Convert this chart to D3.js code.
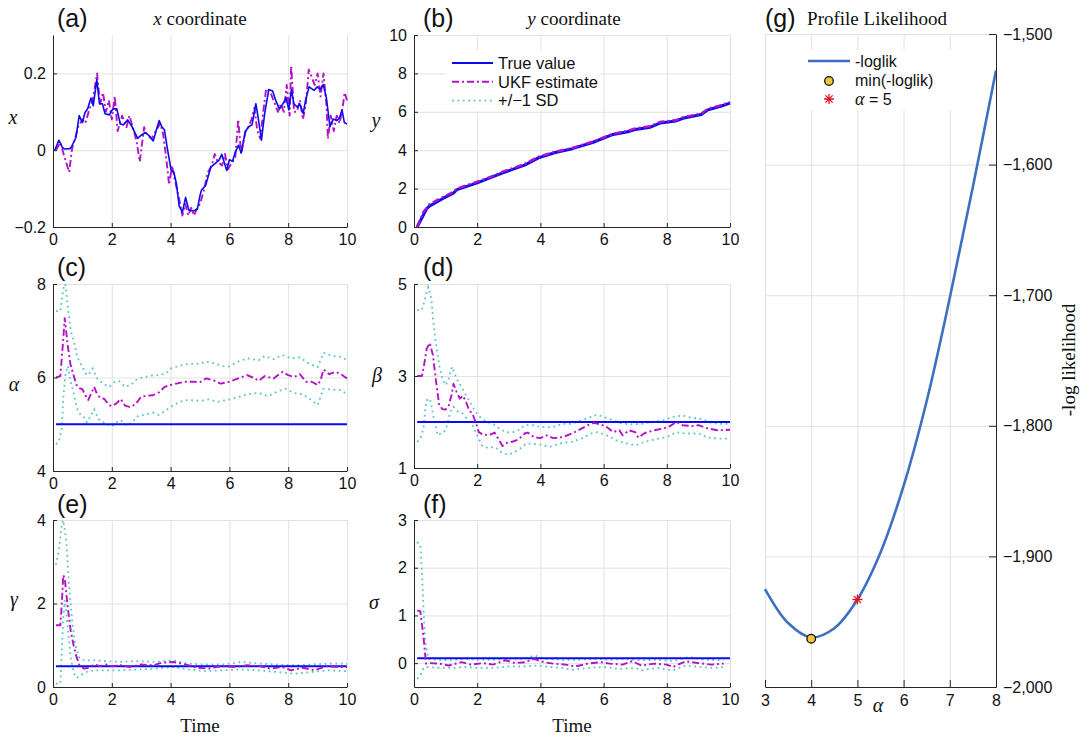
<!DOCTYPE html>
<html>
<head>
<meta charset="utf-8">
<script src="https://cdn.jsdelivr.net/npm/d3@7"></script>
<style>
  body { margin: 0; background: #fff; }
  svg { display: block; }
</style>
</head>
<body>
<div id="chartArea"></div>
<script>
// ---- data ----
const timeTicks = [0, 2, 4, 6, 8, 10]

// (a) x coordinate
const xTrue = [[0.06,0],[0.2,0.026],[0.32,0.007],[0.4,0.003],[0.57,0.004],[0.63,0.009],[0.78,0.033],[0.89,0.09],[1.0,0.072],[1.09,0.098],[1.18,0.108],[1.29,0.136],[1.37,0.116],[1.49,0.184],[1.58,0.121],[1.68,0.121],[1.77,0.095],[1.92,0.092],[2.03,0.107],[2.17,0.108],[2.29,0.068],[2.4,0.066],[2.54,0.079],[2.69,0.061],[2.88,0.031],[3.0,0.039],[3.14,0.046],[3.28,0.037],[3.41,0.024],[3.52,0.054],[3.61,0.077],[3.7,0.061],[3.79,0.053],[3.89,0.004],[4.02,-0.053],[4.11,-0.057],[4.2,-0.088],[4.29,-0.145],[4.4,-0.162],[4.51,-0.123],[4.62,-0.156],[4.78,-0.158],[4.91,-0.154],[5.0,-0.118],[5.05,-0.104],[5.19,-0.092],[5.37,-0.044],[5.51,-0.035],[5.65,-0.026],[5.74,-0.011],[5.82,-0.031],[5.91,-0.053],[6.0,-0.025],[6.11,-0.029],[6.19,-0.007],[6.31,0.013],[6.4,-0.007],[6.54,0.048],[6.65,0.061],[6.77,0.066],[6.9,0.121],[6.99,0.079],[7.09,0.026],[7.2,0.096],[7.34,0.158],[7.47,0.154],[7.59,0.127],[7.7,0.107],[7.82,0.121],[7.93,0.136],[8.02,0.105],[8.11,0.158],[8.19,0.121],[8.31,0.112],[8.39,0.121],[8.51,0.096],[8.59,0.13],[8.71,0.165],[8.88,0.156],[8.99,0.165],[9.09,0.158],[9.19,0.171],[9.3,0.136],[9.42,0.061],[9.53,0.081],[9.65,0.077],[9.74,0.083],[9.83,0.105],[9.91,0.072],[10.0,0.068]]
const xEst = [[0.1,0.0],[0.25,0.02],[0.4,-0.02],[0.55,-0.057],[0.65,0.005],[0.75,0.03],[0.85,0.06],[1.0,0.08],[1.1,0.07],[1.25,0.11],[1.35,0.13],[1.5,0.2],[1.6,0.12],[1.7,0.15],[1.8,0.1],[1.9,0.13],[2.0,0.08],[2.1,0.14],[2.2,0.05],[2.35,0.09],[2.5,0.06],[2.6,0.09],[2.75,0.05],[2.85,0.02],[2.95,-0.03],[3.1,0.06],[3.2,0.04],[3.35,0.03],[3.5,0.05],[3.65,0.07],[3.75,0.04],[3.85,-0.02],[3.95,-0.09],[4.05,-0.04],[4.15,-0.08],[4.3,-0.13],[4.4,-0.17],[4.5,-0.14],[4.6,-0.17],[4.7,-0.15],[4.8,-0.17],[4.9,-0.15],[5.0,-0.14],[5.15,-0.1],[5.25,-0.06],[5.4,-0.04],[5.5,-0.01],[5.6,-0.03],[5.75,-0.04],[5.85,-0.01],[5.95,-0.05],[6.1,-0.03],[6.2,-0.02],[6.3,0.08],[6.4,-0.01],[6.55,0.05],[6.65,0.06],[6.75,0.08],[6.85,0.11],[6.95,0.05],[7.05,0.03],[7.15,0.1],[7.25,0.16],[7.4,0.15],[7.5,0.13],[7.65,0.1],[7.75,0.12],[7.85,0.1],[7.95,0.17],[8.05,0.09],[8.1,0.22],[8.2,0.1],[8.3,0.1],[8.4,0.13],[8.5,0.08],[8.6,0.12],[8.7,0.21],[8.8,0.19],[8.9,0.17],[9.0,0.2],[9.1,0.14],[9.2,0.2],[9.3,0.12],[9.35,0.03],[9.45,0.09],[9.55,0.05],[9.65,0.09],[9.75,0.07],[9.85,0.11],[9.92,0.15],[10.0,0.13]]
const xTicks = [-0.2, 0, 0.2]

// (b) y coordinate
const yTrue = [[0.1,0],[0.4,0.95],[0.5,1.1],[0.93,1.5],[1.26,1.78],[1.36,1.95],[2.0,2.3],[2.44,2.58],[2.81,2.82],[3.5,3.22],[3.94,3.6],[4.47,3.88],[5.01,4.08],[5.65,4.4],[6.3,4.82],[6.73,4.95],[7.0,5.08],[7.48,5.2],[7.8,5.42],[8.28,5.52],[8.55,5.68],[9.09,5.86],[9.3,6.1],[9.73,6.3],[10,6.45]]
const yEst = [[0.1,0],[0.3,0.8],[0.5,1.2],[0.93,1.57],[1.26,1.84],[1.36,2.0],[2.0,2.36],[2.44,2.62],[2.81,2.88],[3.5,3.28],[3.94,3.66],[4.47,3.92],[5.01,4.12],[5.65,4.44],[6.3,4.86],[6.73,4.99],[7.0,5.13],[7.48,5.25],[7.8,5.48],[8.28,5.56],[8.55,5.74],[9.09,5.9],[9.3,6.16],[9.73,6.35],[10,6.5]]
const yTicks = [0, 2, 4, 6, 8, 10]

// (c) alpha
const alphaTrue = 5
const alphaEst = [[0.1,6.0],[0.25,6.03],[0.35,6.83],[0.4,7.27],[0.5,6.69],[0.6,6.26],[0.7,6.05],[0.8,5.84],[0.9,5.77],[1.0,5.75],[1.1,5.62],[1.2,5.52],[1.3,5.66],[1.4,5.8],[1.5,5.64],[1.6,5.57],[1.75,5.54],[1.9,5.41],[2.0,5.39],[2.15,5.44],[2.3,5.54],[2.45,5.4],[2.6,5.37],[2.8,5.42],[3.0,5.59],[3.2,5.61],[3.4,5.62],[3.6,5.68],[3.8,5.8],[4.0,5.84],[4.2,5.87],[4.5,5.91],[4.8,5.91],[5.0,5.9],[5.2,5.98],[5.5,5.93],[5.7,5.87],[6.0,5.91],[6.3,5.98],[6.6,6.05],[6.8,6.0],[7.0,5.93],[7.2,6.03],[7.5,5.98],[7.8,6.12],[8.0,6.05],[8.2,6.01],[8.4,6.07],[8.6,5.91],[8.8,5.91],[9.0,5.84],[9.1,5.94],[9.2,6.17],[9.4,6.07],[9.6,6.12],[9.8,6.07],[10,5.98]]
const alphaUp = [[0.1,7.42],[0.25,7.42],[0.35,7.9],[0.42,8.0],[0.5,7.54],[0.6,7.01],[0.7,6.8],[0.8,6.51],[0.9,6.33],[1.0,6.23],[1.1,6.09],[1.2,6.05],[1.35,6.19],[1.5,5.98],[1.7,5.87],[1.9,5.8],[2.0,5.84],[2.1,5.91],[2.25,5.92],[2.45,5.8],[2.65,5.84],[2.8,5.94],[3.0,5.99],[3.3,6.04],[3.6,6.05],[3.85,6.09],[4.0,6.19],[4.2,6.23],[4.5,6.28],[4.8,6.3],[5.0,6.29],[5.2,6.34],[5.5,6.3],[5.8,6.24],[6.0,6.24],[6.3,6.34],[6.6,6.41],[7.0,6.37],[7.2,6.46],[7.5,6.39],[7.8,6.48],[8.1,6.41],[8.4,6.43],[8.7,6.3],[9.0,6.22],[9.2,6.53],[9.5,6.46],[9.8,6.44],[10,6.37]]
const alphaLo = [[0.1,4.57],[0.2,4.63],[0.3,4.91],[0.35,5.55],[0.42,6.05],[0.5,6.25],[0.6,5.91],[0.7,5.69],[0.8,5.37],[0.9,5.23],[1.0,5.2],[1.15,5.04],[1.3,5.2],[1.4,5.32],[1.55,5.11],[1.7,5.04],[1.85,5.0],[2.0,4.95],[2.15,5.04],[2.3,5.09],[2.5,4.97],[2.7,5.04],[2.9,5.18],[3.1,5.2],[3.4,5.25],[3.6,5.2],[3.8,5.28],[4.0,5.37],[4.3,5.48],[4.6,5.52],[5.0,5.5],[5.3,5.53],[5.6,5.48],[6.0,5.53],[6.3,5.58],[6.6,5.64],[7.0,5.67],[7.3,5.6],[7.6,5.69],[7.9,5.76],[8.2,5.67],[8.5,5.64],[8.8,5.51],[9.0,5.41],[9.2,5.76],[9.5,5.74],[9.8,5.73],[10,5.64]]
const alphaTicks = [4, 6, 8]

// (d) beta
const betaTrue = 2
const betaEst = [[0.1,3.0],[0.25,3.0],[0.3,3.16],[0.4,3.59],[0.5,3.72],[0.6,3.45],[0.7,2.87],[0.8,2.36],[0.9,2.28],[1.0,2.27],[1.1,2.36],[1.2,2.62],[1.25,2.83],[1.35,2.65],[1.45,2.51],[1.55,2.57],[1.65,2.43],[1.75,2.25],[1.85,2.18],[1.95,2.0],[2.05,1.78],[2.2,1.72],[2.4,1.72],[2.55,1.77],[2.7,1.6],[2.8,1.48],[2.95,1.55],[3.1,1.57],[3.3,1.62],[3.5,1.75],[3.6,1.77],[3.8,1.67],[4.0,1.65],[4.2,1.71],[4.4,1.65],[4.7,1.67],[5.0,1.75],[5.2,1.82],[5.5,1.93],[5.7,1.98],[5.9,1.95],[6.1,1.89],[6.3,1.78],[6.5,1.82],[6.6,1.71],[6.8,1.82],[7.0,1.78],[7.1,1.66],[7.3,1.76],[7.6,1.82],[7.9,1.86],[8.1,1.91],[8.3,2.0],[8.5,1.93],[8.8,1.91],[9.0,1.93],[9.3,1.86],[9.6,1.82],[10,1.83]]
const betaUp = [[0.1,4.43],[0.25,4.43],[0.35,4.68],[0.45,4.93],[0.55,4.68],[0.6,4.25],[0.7,3.67],[0.8,3.23],[0.9,2.94],[1.0,2.8],[1.1,2.94],[1.2,3.2],[1.35,2.94],[1.5,2.76],[1.65,2.58],[1.8,2.4],[1.95,2.22],[2.05,2.13],[2.3,2.0],[2.5,1.96],[2.7,1.86],[2.9,1.78],[3.1,1.77],[3.3,1.82],[3.5,1.93],[3.7,1.94],[4.0,1.89],[4.4,1.89],[4.7,1.96],[5.0,1.96],[5.3,2.04],[5.6,2.11],[5.8,2.16],[6.0,2.11],[6.3,2.04],[6.6,1.96],[6.9,1.95],[7.2,1.96],[7.5,2.0],[7.9,2.04],[8.2,2.11],[8.5,2.14],[8.8,2.09],[9.1,2.07],[9.4,1.98],[9.7,1.96],[10,1.96]]
const betaLo = [[0.1,1.57],[0.2,1.64],[0.3,1.86],[0.35,2.22],[0.4,2.47],[0.5,2.51],[0.55,2.36],[0.65,2.0],[0.75,1.71],[0.85,1.75],[0.95,1.78],[1.05,1.93],[1.15,2.22],[1.25,2.33],[1.4,2.22],[1.55,2.18],[1.7,2.04],[1.85,1.93],[2.0,1.71],[2.15,1.49],[2.35,1.43],[2.55,1.46],[2.75,1.35],[2.95,1.29],[3.15,1.33],[3.35,1.42],[3.55,1.53],[3.75,1.53],[4.0,1.51],[4.3,1.46],[4.6,1.53],[5.0,1.57],[5.3,1.64],[5.6,1.75],[5.8,1.78],[6.1,1.71],[6.4,1.6],[6.7,1.54],[7.0,1.49],[7.3,1.57],[7.6,1.62],[8.0,1.67],[8.3,1.78],[8.6,1.75],[9.0,1.75],[9.3,1.66],[9.6,1.64],[10,1.64]]
const betaTicks = [1, 3, 5]

// (e) gamma
const gammaTrue = 0.5
const gammaEst = [[0.1,1.48],[0.25,1.48],[0.3,2.0],[0.35,2.68],[0.4,2.6],[0.5,1.92],[0.6,1.36],[0.7,1.0],[0.8,0.72],[0.9,0.52],[1.05,0.44],[1.2,0.46],[1.4,0.54],[1.6,0.5],[1.8,0.54],[2.0,0.5],[2.3,0.52],[2.6,0.48],[3.0,0.54],[3.4,0.52],[3.7,0.58],[4.1,0.6],[4.5,0.54],[4.9,0.46],[5.3,0.44],[5.7,0.5],[6.2,0.48],[6.6,0.52],[7.0,0.5],[7.4,0.44],[7.8,0.48],[8.1,0.4],[8.5,0.46],[8.9,0.4],[9.3,0.5],[9.7,0.48],[10,0.48]]
const gammaUp = [[0.1,2.92],[0.2,3.28],[0.3,3.92],[0.35,4.0],[0.45,3.52],[0.55,2.4],[0.65,1.6],[0.75,1.04],[0.9,0.68],[1.1,0.64],[1.4,0.64],[1.8,0.62],[2.3,0.6],[2.9,0.62],[3.5,0.6],[4.1,0.64],[4.6,0.56],[5.2,0.54],[5.8,0.54],[6.4,0.6],[7.0,0.56],[7.6,0.54],[8.2,0.52],[8.8,0.54],[9.4,0.56],[10,0.56]]
const gammaLo = [[0.1,0.08],[0.25,0.08],[0.3,0.88],[0.35,1.68],[0.4,2.08],[0.5,1.44],[0.6,0.72],[0.7,0.34],[0.8,0.22],[0.95,0.28],[1.1,0.36],[1.4,0.4],[1.8,0.4],[2.3,0.4],[2.9,0.42],[3.5,0.44],[4.1,0.48],[4.6,0.42],[5.2,0.38],[5.8,0.4],[6.4,0.42],[7.0,0.4],[7.6,0.36],[8.2,0.32],[8.8,0.36],[9.4,0.4],[10,0.38]]
const gammaTicks = [0, 2, 4]

// (f) sigma
const sigmaTrue = 0.1
const sigmaEst = [[0.1,1.1],[0.2,1.09],[0.3,0.55],[0.38,-0.01],[0.5,0.0],[0.8,-0.01],[1.1,-0.05],[1.5,0.02],[1.8,-0.03],[2.2,0.0],[2.5,-0.03],[2.9,0.06],[3.2,0.0],[3.5,0.02],[3.8,0.09],[4.1,0.02],[4.4,-0.01],[4.8,-0.03],[5.1,-0.07],[5.5,-0.01],[5.9,0.02],[6.2,-0.01],[6.6,-0.03],[6.9,0.04],[7.2,-0.05],[7.6,-0.01],[8.0,-0.03],[8.2,-0.08],[8.6,0.04],[9.0,0.0],[9.4,-0.03],[9.8,-0.01]]
const sigmaUp = [[0.1,2.54],[0.2,2.47],[0.25,1.93],[0.3,1.18],[0.35,0.48],[0.45,0.09],[0.8,0.07],[1.2,0.06],[1.6,0.09],[2.0,0.07],[2.5,0.07],[3.0,0.09],[3.5,0.09],[3.8,0.16],[4.2,0.09],[4.7,0.07],[5.2,0.07],[5.7,0.09],[6.2,0.07],[6.7,0.09],[7.2,0.06],[7.7,0.07],[8.2,0.04],[8.7,0.13],[9.2,0.07],[9.8,0.06]]
const sigmaLo = [[0.1,-0.33],[0.2,-0.26],[0.3,-0.1],[0.45,-0.08],[0.8,-0.1],[1.2,-0.1],[1.6,-0.08],[2.0,-0.1],[2.5,-0.1],[3.0,-0.07],[3.5,-0.07],[3.9,-0.05],[4.3,-0.08],[4.7,-0.1],[5.0,-0.14],[5.5,-0.1],[6.0,-0.08],[6.5,-0.12],[7.0,-0.1],[7.2,-0.15],[7.7,-0.1],[8.2,-0.15],[8.6,-0.05],[9.0,-0.08],[9.5,-0.1],[9.8,-0.08]]
const sigmaTicks = [0, 1, 2, 3]

// (g) profile likelihood
const alphaGrid = [3, 3.5, 4, 4.5, 5, 5.5, 6, 6.5, 7, 7.5, 8]
const negLogLik = [-1925, -1951, -1962, -1955, -1933, -1897, -1846, -1781, -1702, -1617, -1528]
const minPoint = [4, -1963]
const truePoint = [5, -1933]
const profileXTicks = [3, 4, 5, 6, 7, 8]
const profileYTicks = [-2000, -1900, -1800, -1700, -1600, -1500]

const legendB = ['True value', 'UKF estimate', '+/\u22121 SD']
const legendG = ['-loglik', 'min(-loglik)', ' = 5']

// ---- drawing ----
const W = 1089, H = 741
const sans = "'Liberation Sans', Arial, Helvetica, sans-serif"
const serif = "'Liberation Serif', 'Times New Roman', serif"
const GRID = '#e2e2e2'
const AXIS = '#262626'
const BLUE = '#0b0bef'
const MAG = '#b312c6'
const CYAN = '#5ec4c4'
const PROFILE = '#3e70c1'

const svg = d3.select('#chartArea').append('svg').attr('width', W).attr('height', H)

const lineGen = (x, y) => d3.line().x(d => x(d[0])).y(d => y(d[1]))
const fmt = d => d3.format('')(d)

// panel layout
const panels = [
  { id: 'a', x0: 53, x1: 347, y0: 35, y1: 227, dom: [-0.2, 0.3], ticks: xTicks, truth: xTrue, est: xEst, sd: null, estUnder: true,
    letter: [57, 27], ylab: ['x', 13, 124], title: ['x', ' coordinate', 200, 25] },
  { id: 'b', x0: 414, x1: 730, y0: 35, y1: 227, dom: [0, 10], ticks: yTicks, truth: yTrue, est: yEst, sd: null, thick: true,
    letter: [423, 27], ylab: ['y', 376, 127], title: ['y', ' coordinate', 574, 25] },
  { id: 'c', x0: 53, x1: 347, y0: 284, y1: 471, dom: [4, 8], ticks: alphaTicks, truth: [[0.1, alphaTrue], [10, alphaTrue]], est: alphaEst, sd: [alphaUp, alphaLo],
    letter: [57, 276], ylab: ['\u03B1', 14, 391] },
  { id: 'd', x0: 414, x1: 730, y0: 284, y1: 468, dom: [1, 5], ticks: betaTicks, truth: [[0.1, betaTrue], [10, betaTrue]], est: betaEst, sd: [betaUp, betaLo],
    letter: [423, 276], ylab: ['\u03B2', 377, 382] },
  { id: 'e', x0: 53, x1: 347, y0: 520, y1: 687, dom: [0, 4], ticks: gammaTicks, truth: [[0.1, gammaTrue], [10, gammaTrue]], est: gammaEst, sd: [gammaUp, gammaLo],
    letter: [57, 513], ylab: ['\u03B3', 14, 606], xlab: true },
  { id: 'f', x0: 414, x1: 730, y0: 520, y1: 687, dom: [-0.5, 3], ticks: sigmaTicks, truth: [[0.1, sigmaTrue], [10, sigmaTrue]], est: sigmaEst, sd: [sigmaUp, sigmaLo],
    letter: [423, 513], ylab: ['\u03C3', 374, 609], xlab: true }
]

const styleAxis = (sel, size) => {
  sel.selectAll('.domain').attr('stroke', AXIS)
  sel.selectAll('.tick line').attr('stroke', AXIS)
  sel.selectAll('text').attr('font-family', sans).attr('font-size', size).attr('fill', '#111')
}

const drawPanel = p => {
  const x = d3.scaleLinear().domain([0, 10]).range([p.x0, p.x1])
  const y = d3.scaleLinear().domain(p.dom).range([p.y1, p.y0])
  const g = svg.append('g')

  // grid
  g.append('g').attr('transform', `translate(0,${p.y1})`)
    .call(d3.axisBottom(x).tickValues(timeTicks).tickSize(-(p.y1 - p.y0)).tickFormat(''))
    .call(a => a.select('.domain').remove())
    .selectAll('line').attr('stroke', GRID)
  g.append('g').attr('transform', `translate(${p.x0},0)`)
    .call(d3.axisLeft(y).tickValues(p.ticks).tickSize(-(p.x1 - p.x0)).tickFormat(''))
    .call(a => a.select('.domain').remove())
    .selectAll('line').attr('stroke', GRID)

  // clip
  svg.append('clipPath').attr('id', 'clip-' + p.id)
    .append('rect').attr('x', p.x0).attr('y', p.y0 - 2).attr('width', p.x1 - p.x0 + 2).attr('height', p.y1 - p.y0 + 2)
  const plot = g.append('g').attr('clip-path', `url(#clip-${p.id})`)
  const ln = lineGen(x, y)

  if (p.sd) {
    p.sd.forEach(s => plot.append('path').datum(s).attr('d', ln)
      .attr('fill', 'none').attr('stroke', CYAN).attr('stroke-width', 1.8)
      .attr('stroke-dasharray', '1.8,3.6'))
  }
  const drawTruth = () => plot.append('path').datum(p.truth).attr('d', ln)
    .attr('fill', 'none').attr('stroke', BLUE).attr('stroke-width', p.thick ? 3 : (p.sd ? 2 : 1.6))
    .attr('stroke-linejoin', 'round')
  const drawEst = () => plot.append('path').datum(p.est).attr('d', ln)
    .attr('fill', 'none').attr('stroke', MAG).attr('stroke-width', p.thick ? 2.4 : 1.9)
    .attr('stroke-dasharray', '7,3,2,3').attr('stroke-linejoin', 'round')
  if (p.estUnder) { drawEst(); drawTruth() } else { drawTruth(); drawEst() }

  // axes
  g.append('g').attr('transform', `translate(0,${p.y1})`)
    .call(d3.axisBottom(x).tickValues(timeTicks).tickSizeInner(-4).tickSizeOuter(0).tickPadding(7).tickFormat(fmt))
    .call(a => styleAxis(a, 16))
  g.append('g').attr('transform', `translate(${p.x0},0)`)
    .call(d3.axisLeft(y).tickValues(p.ticks).tickSizeInner(-4).tickSizeOuter(0).tickPadding(7).tickFormat(fmt))
    .call(a => styleAxis(a, 16))

  // panel letter
  svg.append('text').attr('x', p.letter[0]).attr('y', p.letter[1])
    .attr('font-family', sans).attr('font-size', 25).attr('fill', '#111')
    .text('(' + p.id + ')')

  // y label
  svg.append('text').attr('x', p.ylab[1]).attr('y', p.ylab[2])
    .attr('font-family', serif).attr('font-style', 'italic').attr('font-size', 20)
    .attr('text-anchor', 'middle').attr('fill', '#111')
    .text(p.ylab[0])

  // title
  if (p.title) {
    const t = svg.append('text').attr('x', p.title[2]).attr('y', p.title[3])
      .attr('font-family', serif).attr('font-size', 19).attr('text-anchor', 'middle').attr('fill', '#111')
    t.append('tspan').attr('font-style', 'italic').text(p.title[0])
    t.append('tspan').text(p.title[1])
  }

  if (p.xlab) {
    svg.append('text').attr('x', (p.x0 + p.x1) / 2).attr('y', 732)
      .attr('font-family', serif).attr('font-size', 19).attr('text-anchor', 'middle').attr('fill', '#111')
      .text('Time')
  }
}

panels.forEach(drawPanel)

// legend in (b)
const legB = svg.append('g')
legB.append('rect').attr('x', 446).attr('y', 51).attr('width', 154).attr('height', 60).attr('fill', '#fff')
const legStyles = [
  { stroke: BLUE, dash: null, w: 2 },
  { stroke: MAG, dash: '7,3,2,3', w: 2 },
  { stroke: CYAN, dash: '1.8,3.6', w: 1.8 }
]
legendB.forEach((lbl, i) => {
  const yy = 63 + i * 18.8
  legB.append('line').attr('x1', 452).attr('x2', 493).attr('y1', yy).attr('y2', yy)
    .attr('stroke', legStyles[i].stroke).attr('stroke-width', legStyles[i].w)
    .attr('stroke-dasharray', legStyles[i].dash)
  legB.append('text').attr('x', 498).attr('y', yy).attr('dy', '0.35em')
    .attr('font-family', sans).attr('font-size', 16.5).attr('fill', '#111').text(lbl)
})

// ---- (g) profile likelihood ----
const gx = d3.scaleLinear().domain([3, 8]).range([765, 996])
const gy = d3.scaleLinear().domain([-2000, -1500]).range([687, 34])
const gG = svg.append('g')

gG.append('g').attr('transform', 'translate(0,687)')
  .call(d3.axisBottom(gx).tickValues(profileXTicks).tickSize(-(687 - 34)).tickFormat(''))
  .call(a => a.select('.domain').remove())
  .selectAll('line').attr('stroke', GRID)
gG.append('g').attr('transform', 'translate(765,0)')
  .call(d3.axisLeft(gy).tickValues(profileYTicks).tickSize(-(996 - 765)).tickFormat(''))
  .call(a => a.select('.domain').remove())
  .selectAll('line').attr('stroke', GRID)

// legend background first so the curve stays on top
const legG = svg.append('g')
legG.append('rect').attr('x', 803).attr('y', 50).attr('width', 152).attr('height', 60).attr('fill', '#fff')

const curveData = alphaGrid.map((a, i) => [a, negLogLik[i]])
gG.append('path').datum(curveData)
  .attr('d', d3.line().x(d => gx(d[0])).y(d => gy(d[1])).curve(d3.curveCatmullRom))
  .attr('fill', 'none').attr('stroke', PROFILE).attr('stroke-width', 2.6)

// asterisk helper
const asterisk = (cx, cy, r) => {
  const p = d3.path()
  p.moveTo(cx - r, cy); p.lineTo(cx + r, cy)
  p.moveTo(cx, cy - r); p.lineTo(cx, cy + r)
  const k = r * 0.72
  p.moveTo(cx - k, cy - k); p.lineTo(cx + k, cy + k)
  p.moveTo(cx - k, cy + k); p.lineTo(cx + k, cy - k)
  return p.toString()
}

gG.append('path').attr('d', asterisk(gx(truePoint[0]), gy(truePoint[1]), 5))
  .attr('stroke', '#e3141c').attr('stroke-width', 1.3).attr('fill', 'none')
gG.append('circle').attr('cx', gx(minPoint[0])).attr('cy', gy(minPoint[1])).attr('r', 4.3)
  .attr('fill', '#ecc83a').attr('stroke', '#111').attr('stroke-width', 1.3)

// axes (g)
gG.append('g').attr('transform', 'translate(0,687)')
  .call(d3.axisBottom(gx).tickValues(profileXTicks).tickSizeInner(-7).tickSizeOuter(0).tickPadding(8).tickFormat(fmt))
  .call(a => styleAxis(a, 16))
gG.append('g').attr('transform', 'translate(996,0)')
  .call(d3.axisRight(gy).tickValues(profileYTicks).tickSizeInner(-7).tickSizeOuter(0).tickPadding(7).tickFormat(d3.format(',')))
  .call(a => styleAxis(a, 16))

// legend (g)
legG.append('line').attr('x1', 808).attr('x2', 850).attr('y1', 61).attr('y2', 61)
  .attr('stroke', PROFILE).attr('stroke-width', 2.6)
legG.append('circle').attr('cx', 829).attr('cy', 81).attr('r', 4.3)
  .attr('fill', '#ecc83a').attr('stroke', '#111').attr('stroke-width', 1.3)
legG.append('path').attr('d', asterisk(829, 99, 5))
  .attr('stroke', '#e3141c').attr('stroke-width', 1.3).attr('fill', 'none')
legendG.forEach((lbl, i) => {
  const t = legG.append('text').attr('x', 855).attr('y', 61 + i * 19).attr('dy', '0.35em')
    .attr('font-family', sans).attr('font-size', 16).attr('fill', '#111')
  if (i === 2) {
    t.append('tspan').attr('font-family', serif).attr('font-style', 'italic').attr('font-size', 18).text('\u03B1')
    t.append('tspan').text(lbl)
  } else {
    t.text(lbl)
  }
})

svg.append('text').attr('x', 765).attr('y', 27)
  .attr('font-family', sans).attr('font-size', 25).attr('fill', '#111').text('(g)')
svg.append('text').attr('x', 877).attr('y', 25).attr('text-anchor', 'middle')
  .attr('font-family', serif).attr('font-size', 19).attr('fill', '#111').text('Profile Likelihood')
svg.append('text').attr('transform', 'translate(1068,360) rotate(-90)').attr('text-anchor', 'middle').attr('dy', '0.35em')
  .attr('font-family', serif).attr('font-size', 19).attr('fill', '#111').text('-log likelihood')
svg.append('text').attr('x', 878).attr('y', 712).attr('text-anchor', 'middle')
  .attr('font-family', serif).attr('font-style', 'italic').attr('font-size', 20).attr('fill', '#111').text('\u03B1')
</script>
</body>
</html>
